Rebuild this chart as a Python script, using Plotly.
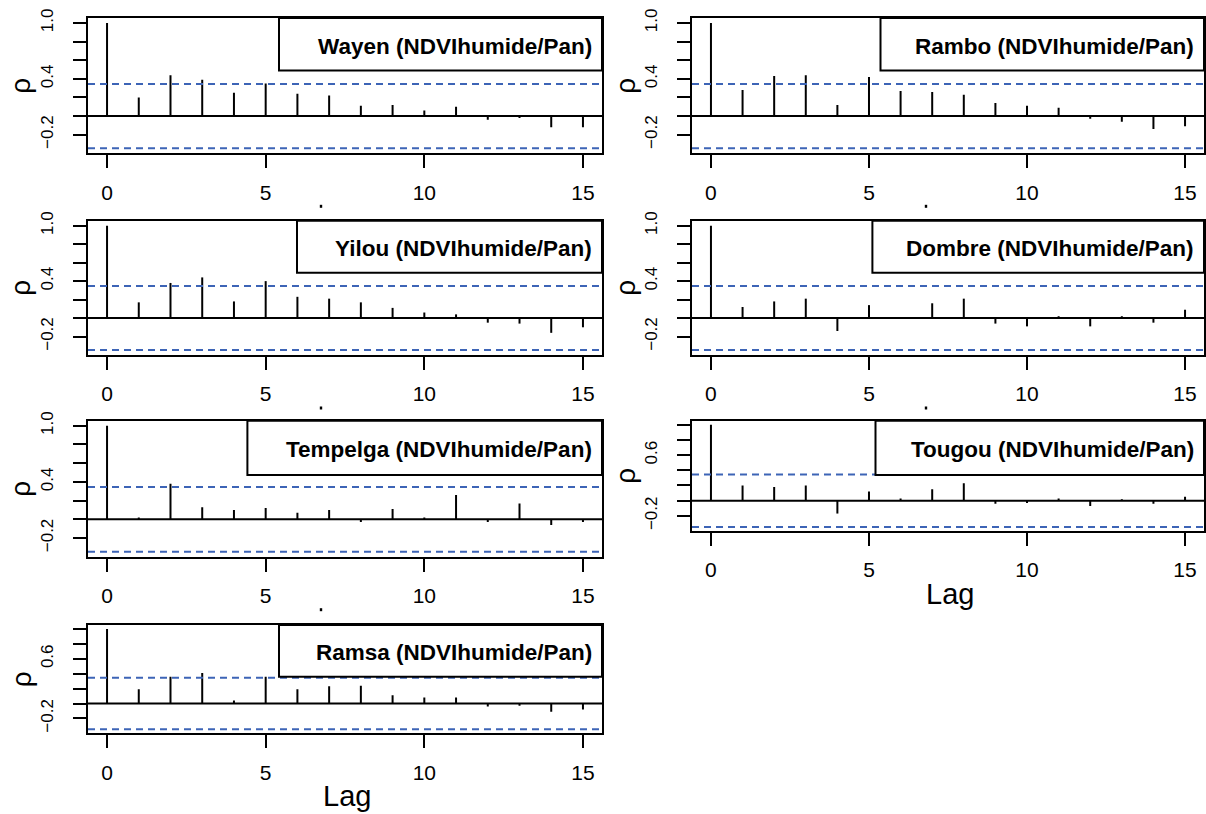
import plotly.graph_objects as go

# ---------------- data ----------------
lags = list(range(16))
x_ticks = [0, 5, 10, 15]
y_ticks = [-0.2, 0.0, 0.2, 0.4, 0.6, 0.8, 1.0]
y_text_tall = ["\u22120.2", "", "", "0.4", "", "", "1.0"]
y_text_short = ["\u22120.2", "", "", "", "0.6", "", ""]

site_names = ["Wayen", "Rambo", "Yilou", "Dombre", "Tempelga", "Tougou", "Ramsa"]
legend_suffix = " (NDVIhumide/Pan)"

wayen = [1.0, 0.20, 0.44, 0.39, 0.25, 0.35, 0.24, 0.22, 0.11, 0.12, 0.06, 0.10, -0.04, -0.02, -0.12, -0.12]
rambo = [1.0, 0.28, 0.43, 0.44, 0.12, 0.42, 0.27, 0.26, 0.23, 0.14, 0.11, 0.09, -0.03, -0.06, -0.14, -0.11]
yilou = [1.0, 0.17, 0.38, 0.44, 0.18, 0.40, 0.23, 0.21, 0.17, 0.11, 0.06, 0.04, -0.05, -0.06, -0.16, -0.10]
dombre = [1.0, 0.12, 0.18, 0.21, -0.14, 0.14, 0.00, 0.16, 0.21, -0.06, -0.09, 0.02, -0.09, 0.02, -0.05, 0.09]
tempelga = [1.0, 0.02, 0.38, 0.13, 0.10, 0.12, 0.07, 0.10, -0.03, 0.11, 0.02, 0.26, -0.03, 0.17, -0.06, -0.03]
tougou = [1.0, 0.20, 0.18, 0.20, -0.17, 0.12, 0.03, 0.15, 0.23, -0.04, -0.03, 0.03, -0.07, 0.02, -0.04, 0.05]
ramsa = [1.0, 0.19, 0.36, 0.41, 0.04, 0.36, 0.19, 0.23, 0.24, 0.11, 0.08, 0.08, -0.04, -0.03, -0.11, -0.08]
ci_bound = [0.346, 0.346, 0.346, 0.346, 0.346, 0.346, 0.346]

series = [wayen, rambo, yilou, dombre, tempelga, tougou, ramsa]

# ---------------- layout (pixels of the 1206x814 page) ----------------
W, H = 1206, 814
FONT = "Liberation Sans, Arial, Helvetica, sans-serif"
BLUE = "#3d64b6"

col_x = {1: (88, 602), 2: (692, 1204)}
# col, box top, box bottom, legend-box left, legend-box bottom, short axis?, has Lag label, clipped-dot
panels = [
    (1, 18.0, 153.3, 279.0, 70.5, False, False, True),
    (2, 18.0, 153.3, 880.5, 70.5, False, False, True),
    (1, 220.7, 355.0, 297.0, 272.7, False, False, True),
    (2, 220.7, 355.0, 872.4, 272.7, False, False, True),
    (1, 420.7, 556.7, 247.4, 475.0, False, False, True),
    (2, 420.7, 531.0, 875.5, 475.0, True, True, False),
    (1, 625.0, 733.3, 279.0, 676.7, True, True, False),
]

x_range = [-0.6, 15.6]
y_range = [-0.4, 1.054]


def px(x):
    return x / W


def py(y):
    return 1 - y / H


fig = go.Figure()
shapes = []
annotations = []
layout = dict(
    width=W, height=H,
    margin=dict(l=0, r=0, t=0, b=0, autoexpand=False),
    paper_bgcolor="white", plot_bgcolor="white",
    showlegend=False,
    font=dict(family=FONT, color="black"),
)

for i, (vals, name, ci, p) in enumerate(zip(series, site_names, ci_bound, panels)):
    col, top, bot, leg_left, leg_bot, short, has_lag, dot = p
    k = "" if i == 0 else str(i + 1)
    xl, xr = col_x[col]

    # stems (ACF bars)
    xs, ys = [], []
    for lag, v in zip(lags, vals):
        xs += [lag, lag, None]
        ys += [0, v, None]
    fig.add_trace(go.Scatter(
        x=xs, y=ys, mode="lines",
        line=dict(color="black", width=2),
        xaxis="x" + k, yaxis="y" + k, hoverinfo="skip",
    ))

    layout["xaxis" + k] = dict(
        domain=[px(xl), px(xr)], anchor="y" + k, range=x_range,
        automargin=False,
        tickvals=x_ticks, ticktext=[str(t) for t in x_ticks],
        ticks="outside", ticklen=13, tickwidth=2, tickcolor="black",
        showline=True, mirror=True, linecolor="black", linewidth=2,
        showgrid=False, zeroline=False,
        tickfont=dict(size=21, family=FONT, color="black"),
        ticklabelstandoff=6,
    )
    layout["yaxis" + k] = dict(
        domain=[py(bot), py(top)], anchor="x" + k, range=y_range,
        automargin=False,
        tickvals=y_ticks, ticktext=y_text_short if short else y_text_tall,
        tickangle=-90,
        ticks="outside", ticklen=13, tickwidth=2, tickcolor="black",
        showline=True, mirror=True, linecolor="black", linewidth=2,
        showgrid=False, zeroline=False,
        tickfont=dict(size=17, family=FONT, color="black"),
        ticklabelstandoff=13,
    )

    xd = "x" + k + " domain"
    yd = "y" + k + " domain"
    # zero line
    shapes.append(dict(type="line", xref=xd, yref="y" + k, x0=0, x1=1, y0=0, y1=0,
                       line=dict(color="black", width=2)))
    # confidence bounds
    for b in (ci, -ci):
        shapes.append(dict(type="line", xref=xd, yref="y" + k, x0=0, x1=1, y0=b, y1=b,
                           line=dict(color=BLUE, width=2, dash="7px,5px")))
    # legend box
    lx0 = (leg_left - xl) / (xr - xl)
    ly0 = (bot - leg_bot) / (bot - top)
    shapes.append(dict(type="rect", xref=xd, yref=yd, x0=lx0, x1=1, y0=ly0, y1=1,
                       line=dict(color="black", width=2), fillcolor="white", layer="above"))
    annotations.append(dict(
        xref=xd, yref=yd,
        x=(xr - 8 - xl) / (xr - xl),
        y=(bot - ((top + leg_bot) / 2 + 2)) / (bot - top),
        xanchor="right", yanchor="middle", showarrow=False,
        text="<b>" + name + legend_suffix + "</b>",
        font=dict(size=22.5, family=FONT, color="black"),
    ))
    # y title (rho)
    rho_x = 21 if col == 1 else 626
    annotations.append(dict(
        xref="paper", yref="paper", x=px(rho_x), y=py((top + bot) / 2),
        xanchor="center", yanchor="middle", showarrow=False, textangle=-90,
        text="ρ", font=dict(size=28, family=FONT, color="black"),
    ))
    if has_lag:
        annotations.append(dict(
            xref="paper", yref="paper", x=px((xl + xr) / 2 + 2), y=py(bot + 63),
            xanchor="center", yanchor="middle", showarrow=False,
            text="Lag", font=dict(size=29, family=FONT, color="black"),
        ))
    if dot:
        cx = xl + 233 if col == 1 else xl + 234
        cy = bot + 53
        shapes.append(dict(type="rect", xref="paper", yref="paper",
                           x0=px(cx - 1.2), x1=px(cx + 1.2), y0=py(cy + 1.5), y1=py(cy - 1.5),
                           line=dict(width=0), fillcolor="black"))

layout["shapes"] = shapes
layout["annotations"] = annotations
fig.update_layout(**layout)
fig.write_html("out.html", config={"displayModeBar": False},
               post_script="document.body.style.margin='0';")
